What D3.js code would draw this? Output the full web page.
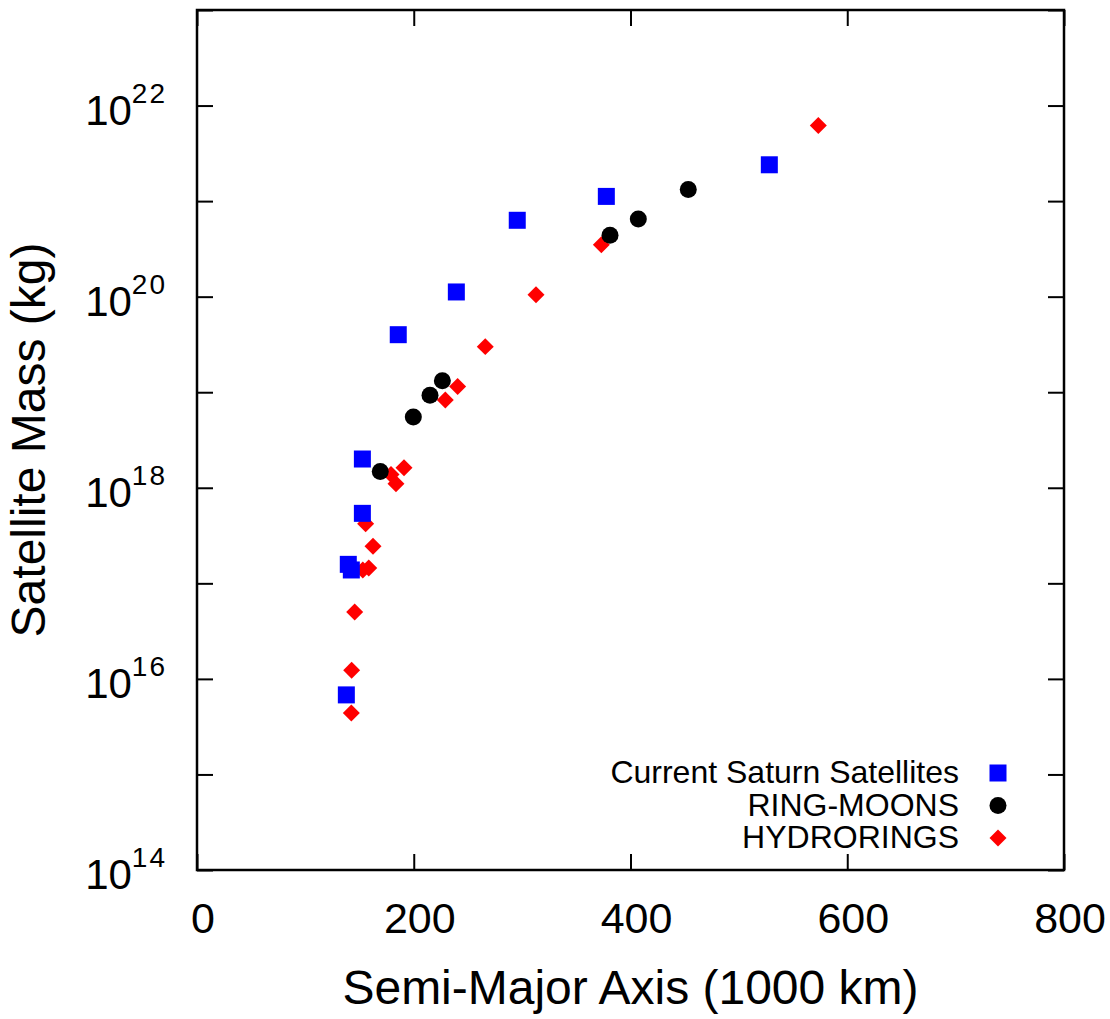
<!DOCTYPE html>
<meta charset="utf-8">
<style>
    body { margin: 0; background: #fff; }
    .chart text { font-family: "Liberation Sans", Arial, sans-serif; fill: #000; }
    .axis path { display: none; }
    .axis line { stroke: #000; stroke-width: 2; }
</style>
<svg class="chart"></svg>
<script src="https://cdn.jsdelivr.net/npm/d3@7"></script>
<script>

    // semi-major axis in 1000 km, mass in kg
    var satA = [137.8, 139.6, 142.4, 152.6, 152.6, 185.7, 239.3, 295.5, 377.7, 528.1];
    var satM = [6.8e15, 1.58e17, 1.38e17, 5.4e17, 2.0e18, 4.0e19, 1.12e20, 6.3e20, 1.12e21, 2.4e21];

    var moonA = [169.1, 199.6, 215.0, 226.4, 381.1, 407.2, 453.3];
    var moonM = [1.48e18, 5.5e18, 9.3e18, 1.32e19, 4.4e20, 6.5e20, 1.32e21];

    var hydroA = [142.4, 142.7, 145.5, 153.0, 158.5, 162.4, 155.6, 179.0, 183.6, 191.0, 229.1, 240.5, 266.0, 312.8, 373.1, 573.3];
    var hydroM = [4.4e15, 1.23e16, 5.0e16, 1.38e17, 1.45e17, 2.45e17, 4.2e17, 1.38e18, 1.10e18, 1.62e18, 8.3e18, 1.15e19, 3.0e19, 1.05e20, 3.5e20, 6.2e21];

    var xTicks = [0, 200, 400, 600, 800];
    var yExp = [14, 15, 16, 17, 18, 19, 20, 21, 22, 23];
    var yLabelExp = [14, 16, 18, 20, 22];

    var seriesNames = ["Current Saturn Satellites", "RING-MOONS", "HYDRORINGS"];

    var width = 1110,
        height = 1019,
        plotL = 197, plotR = 1064, plotT = 10, plotB = 870;

    var svg = d3.select(".chart")
        .attr("width", width)
        .attr("height", height);

    var x = d3.scaleLinear().domain([0, 800]).range([plotL, plotR]);
    var y = d3.scaleLog().domain([1e14, 1e23]).range([plotB, plotT]);

    var yTickVals = yExp.map(function(e) { return Math.pow(10, e); });

    // ticks, pointing inwards on all four sides
    svg.append("g").attr("class", "axis")
        .attr("transform", "translate(0," + plotB + ")")
        .call(d3.axisBottom(x).tickValues(xTicks).tickSize(-16).tickFormat(""));
    svg.append("g").attr("class", "axis")
        .attr("transform", "translate(0," + plotT + ")")
        .call(d3.axisTop(x).tickValues(xTicks).tickSize(-16).tickFormat(""));
    svg.append("g").attr("class", "axis")
        .attr("transform", "translate(" + plotL + ",0)")
        .call(d3.axisLeft(y).tickValues(yTickVals).tickSize(-16).tickFormat(""));
    svg.append("g").attr("class", "axis")
        .attr("transform", "translate(" + plotR + ",0)")
        .call(d3.axisRight(y).tickValues(yTickVals).tickSize(-16).tickFormat(""));

    // frame
    svg.append("rect")
        .attr("x", plotL).attr("y", plotT)
        .attr("width", plotR - plotL).attr("height", plotB - plotT)
        .attr("fill", "none").attr("stroke", "#000").attr("stroke-width", 2.5);

    // x tick labels
    svg.selectAll(".xlab")
        .data(xTicks)
        .enter().append("text")
        .attr("x", function(d) { return x(d) + 6; })
        .attr("y", plotB + 63)
        .attr("text-anchor", "middle")
        .style("font-size", "43px")
        .text(function(d) { return d; });

    // y tick labels as 10^n
    var ylab = svg.selectAll(".ylab")
        .data(yLabelExp)
        .enter().append("text")
        .attr("x", 167)
        .attr("y", function(d) { return y(Math.pow(10, d)) + 19; })
        .attr("text-anchor", "end")
        .style("font-size", "42px");
    ylab.append("tspan").text("10");
    ylab.append("tspan")
        .attr("dy", -22)
        .style("font-size", "28px")
        .style("letter-spacing", "2px")
        .text(function(d) { return d; });

    // axis titles
    svg.append("text")
        .attr("x", (plotL + plotR) / 2)
        .attr("y", 1004)
        .attr("text-anchor", "middle")
        .style("font-size", "48px")
        .text("Semi-Major Axis (1000 km)");

    svg.append("text")
        .attr("transform", "translate(45," + ((plotT + plotB) / 2) + ") rotate(-90)")
        .attr("text-anchor", "middle")
        .style("font-size", "48px")
        .text("Satellite Mass (kg)");

    function drawHydro(g, cx, cy) {
        g.append("rect")
            .attr("x", -6).attr("y", -6)
            .attr("width", 12).attr("height", 12)
            .attr("fill", "red")
            .attr("transform", "translate(" + cx + "," + cy + ") rotate(45)");
    }
    function drawMoon(g, cx, cy) {
        g.append("circle").attr("cx", cx).attr("cy", cy).attr("r", 8.5).attr("fill", "#000");
    }
    function drawSat(g, cx, cy) {
        g.append("rect").attr("x", cx - 8.5).attr("y", cy - 8.5)
            .attr("width", 17).attr("height", 17).attr("fill", "blue");
    }

    var pts = svg.append("g");
    hydroA.forEach(function(a, i) { drawHydro(pts, x(a), y(hydroM[i])); });
    moonA.forEach(function(a, i) { drawMoon(pts, x(a), y(moonM[i])); });
    satA.forEach(function(a, i) { drawSat(pts, x(a), y(satM[i])); });

    // legend
    var drawers = [drawSat, drawMoon, drawHydro];
    var legend = svg.append("g");
    seriesNames.forEach(function(name, i) {
        var by = 783 + i * 32.5;
        legend.append("text")
            .attr("x", 959)
            .attr("y", by)
            .attr("text-anchor", "end")
            .style("font-size", "32px")
            .text(name);
        drawers[i](legend, 998, by - 10);
    });

</script>
